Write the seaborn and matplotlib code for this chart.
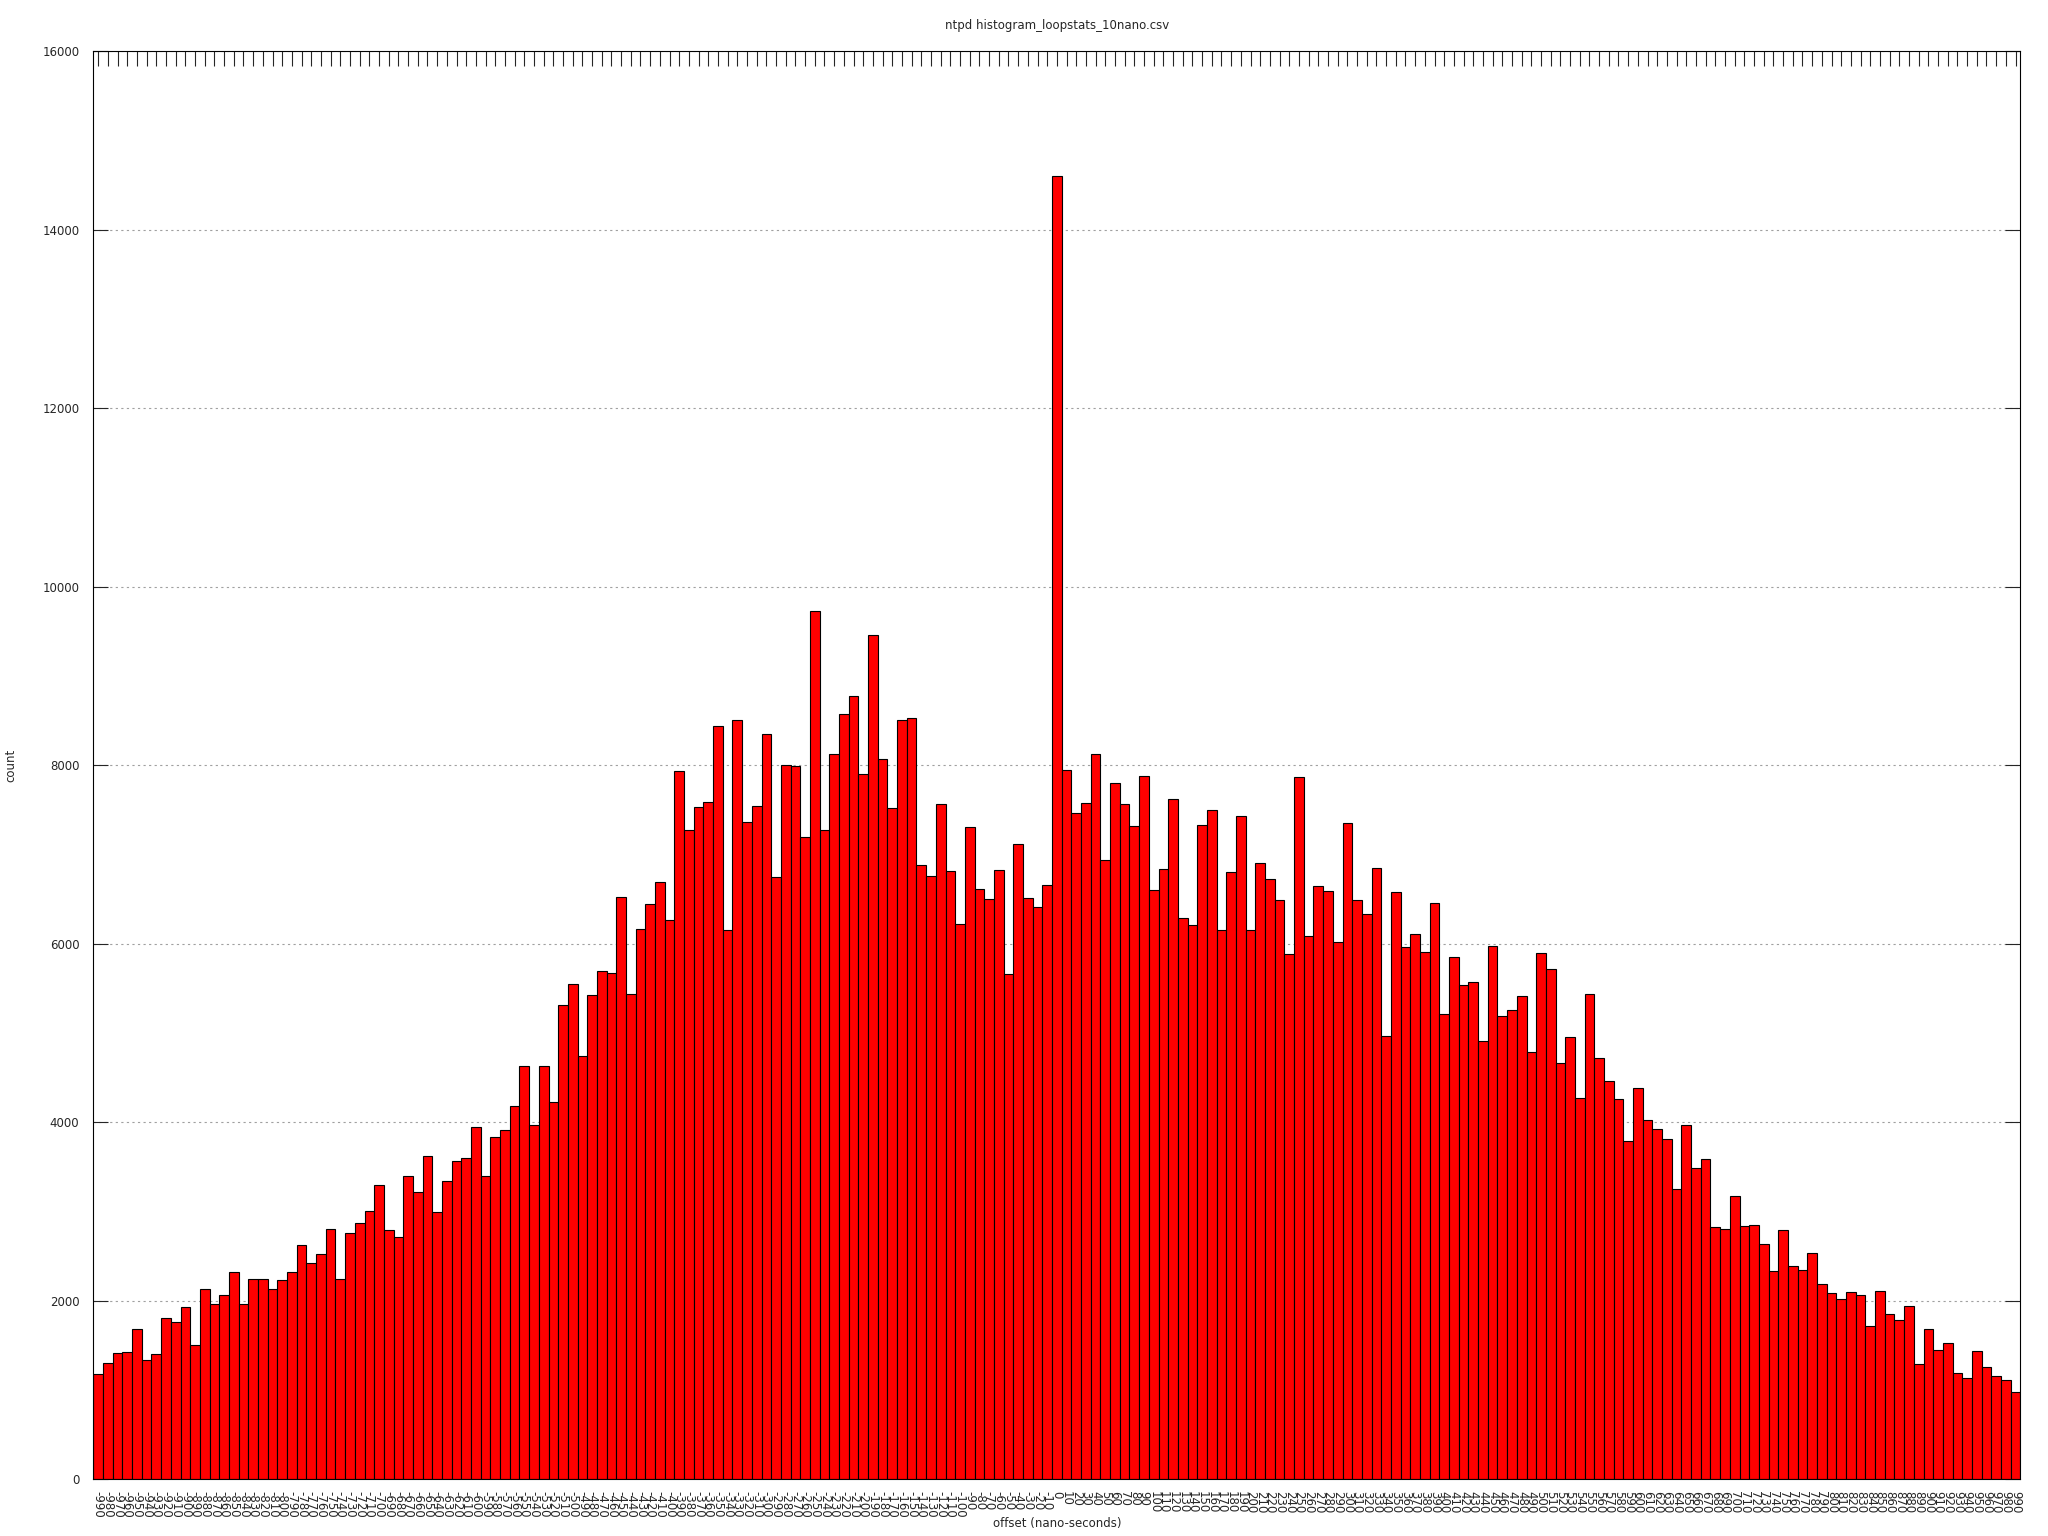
import matplotlib
matplotlib.use("Agg")
import matplotlib.pyplot as plt
import seaborn as sns
import pandas as pd

# offset bins, -990 .. 990 in steps of 10
offsets = list(range(-990, 1000, 10))

# counts per bin
counts = [
    1179, 1302, 1414, 1425, 1683, 1336, 1403, 1806, 1761, 1929, 1504, 2131, 1963, 2064,
    2321, 1963, 2243, 2243, 2131, 2232, 2321, 2624, 2422, 2523, 2803, 2243, 2758,
    2870, 3005, 3296, 2792, 2714, 3397, 3218, 3621, 2994, 3341, 3565, 3599, 3946, 3397,
    3834, 3912, 4181, 4629, 3968, 4629, 4226, 5313, 5550, 4741,
    5425, 5694, 5671, 6523, 5436, 6164, 6445, 6691, 6265, 7935, 7274, 7531, 7587, 8439,
    6153, 8506, 7363, 7543, 8349, 6747, 8002, 7991, 7195, 9727, 7274, 8125, 8573, 8775,
    7901, 9458,
    8069, 7520, 8506, 8528, 6881, 6758, 7565, 6814, 6220, 7307, 6612, 6501, 6825, 5660,
    7117, 6512, 6411, 6657, 14600, 7946, 7464, 7576, 8125, 6937, 7800, 7565, 7318, 7879,
    6601, 6837,
    7621, 6288, 6209, 7330, 7498, 6153, 6803, 7431, 6153, 6904, 6725, 6489, 5884, 7867,
    6086, 6646, 6590, 6019, 7352, 6489, 6332, 6848, 4966, 6579, 5963, 6108, 5907, 6456,
    5212, 5851,
    5537, 5571, 4910, 5974, 5190, 5257, 5414, 4786, 5896, 5716, 4663, 4954, 4271, 5436,
    4719, 4461, 4260, 3789, 4383, 4024, 3924, 3812, 3251, 3968, 3487, 3587, 2826, 2803,
    3173, 2837,
    2848, 2635, 2333, 2792, 2389, 2344, 2534, 2187, 2086, 2019, 2097, 2064, 1716, 2109,
    1851, 1784, 1941, 1291, 1683, 1448, 1526, 1190, 1134, 1436, 1257, 1156, 1111, 977,
]

offset_labels = [str(o) for o in offsets]
y_ticks = list(range(0, 16001, 2000))

df = pd.DataFrame({"offset": offset_labels, "count": counts})

sns.set_style("white")
plt.rcParams['font.family'] = ['DejaVu Sans']

fig = plt.figure(figsize=(20.48, 15.36), dpi=100)
ax = fig.add_axes([0.0456, 0.0368, 0.9409, 0.9300])

sns.barplot(data=df, x="offset", y="count", order=offset_labels,
            color="#ff0000", saturation=1, width=1.0,
            edgecolor="black", linewidth=0.8, errorbar=None, ax=ax)

ax.set_xlim(-0.5, len(offsets) - 0.5)
ax.set_ylim(0, 16000)
ax.set_yticks(y_ticks)
ax.set_yticklabels([str(t) for t in y_ticks])

# gnuplot-like ticks: inward, mirrored
ax.tick_params(axis="x", direction="in", length=11, width=0.8, top=True,
               bottom=True, labelsize=8.5, labelrotation=-90, pad=8)
ax.tick_params(axis="y", direction="in", length=11, width=0.8, right=True,
               left=True, labelsize=8.5, pad=10)

for s in ax.spines.values():
    s.set_visible(True)
    s.set_linewidth(0.8)
    s.set_color("black")

ax.set_axisbelow(True)
ax.yaxis.grid(True, color="#a0a0a0", linestyle=(0, (2, 3)), linewidth=0.8)
ax.xaxis.grid(False)

ax.set_title("ntpd histogram_loopstats_10nano.csv", fontsize=8.5, pad=16)
ax.set_xlabel("offset (nano-seconds)", fontsize=8.5)
ax.set_ylabel("count", fontsize=8.5)
ax.xaxis.set_label_coords(0.5, -0.026)
ax.yaxis.set_label_coords(-0.0396, 0.5)

fig.savefig("out.png", dpi=100)
